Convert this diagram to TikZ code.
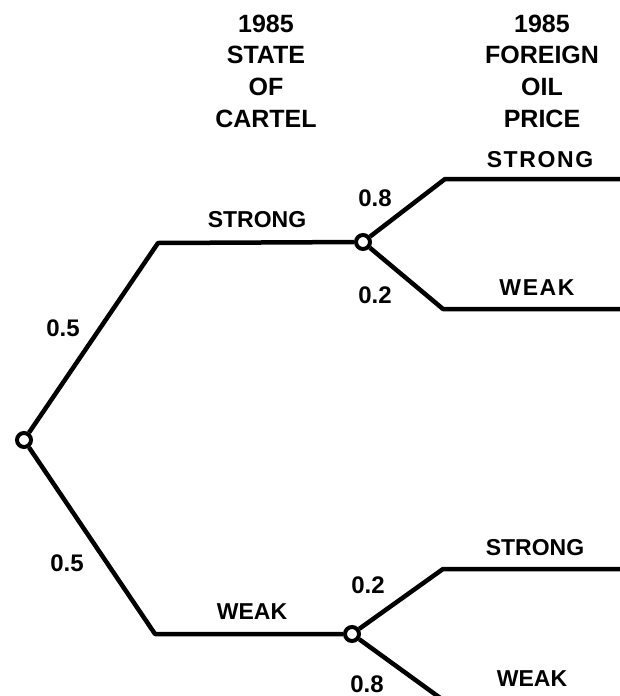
\documentclass[tikz,border=0pt]{standalone}
\usepackage{fontspec}
\setmainfont{Liberation Sans}

\begin{document}
\begin{tikzpicture}[
            x=1pt, y=-1pt,
            chance/.style={draw, circle, line width=4pt, inner sep=0pt, minimum size=14pt, fill=white},
            branch/.style={line width=4.5pt, line join=round},
            head/.style={align=center, font=\bfseries\fontsize{25}{31.7}\selectfont},
            lbl/.style={inner sep=1pt, font=\bfseries\fontsize{23}{26}\selectfont},
            prob/.style={inner sep=1pt, font=\bfseries\fontsize{24}{26}\selectfont},
            widelbl/.style={inner sep=1pt, font=\bfseries\fontsize{23}{26}\selectfont\addfontfeatures{LetterSpace=7}}
        ]
            \useasboundingbox (0,0) rectangle (620,696);
            \clip (0,0) rectangle (620,696);

            % headers
            \node[head] (hcartel) at (266,71) {1985\\STATE\\OF\\CARTEL};
            \node[head] (hprice) at (542,71) {1985\\FOREIGN\\OIL\\PRICE};

            % chance nodes and bends
            \node[chance] (root) at (24,440) {};
            \node[chance] (nstrong) at (363,242) {};
            \node[chance] (nweak) at (352,634) {};
            \coordinate (bstrong) at (158,243);
            \coordinate (bweak) at (155,634);
            \coordinate (bss) at (445,179);
            \coordinate (bsw) at (443,309);
            \coordinate (bws) at (443,569);
            \coordinate (bww) at (443,700);
            \coordinate (ess) at (622,179);
            \coordinate (esw) at (622,309);
            \coordinate (ews) at (622,569);
            \coordinate (eww) at (622,700);

            \draw[branch] (root) -- (bstrong) -- (nstrong);
            \draw[branch] (root) -- (bweak) -- (nweak);
            \draw[branch] (nstrong) -- (bss) -- (ess);
            \draw[branch] (nstrong) -- (bsw) -- (esw);
            \draw[branch] (nweak) -- (bws) -- (ews);
            \draw[branch] (nweak) -- (bww) -- (eww);

            % labels
            \node[prob] (pstrong) at (63,328) {0.5};
            \node[prob] (pweak) at (67,563) {0.5};
            \node[lbl] (lstrong) at (257,220) {STRONG};
            \node[lbl] (lweak) at (252,612) {WEAK};
            \node[prob] (pss) at (375,198) {0.8};
            \node[prob] (psw) at (375,295) {0.2};
            \node[prob] (pws) at (368,585) {0.2};
            \node[prob] (pww) at (367,684) {0.8};
            \node[widelbl] (lss) at (540,160) {STRONG};
            \node[widelbl] (lsw) at (537,288) {WEAK};
            \node[lbl] (lws) at (535,548) {STRONG};
            \node[lbl] (lww) at (532,679) {WEAK};
        \end{tikzpicture}
\end{document}
